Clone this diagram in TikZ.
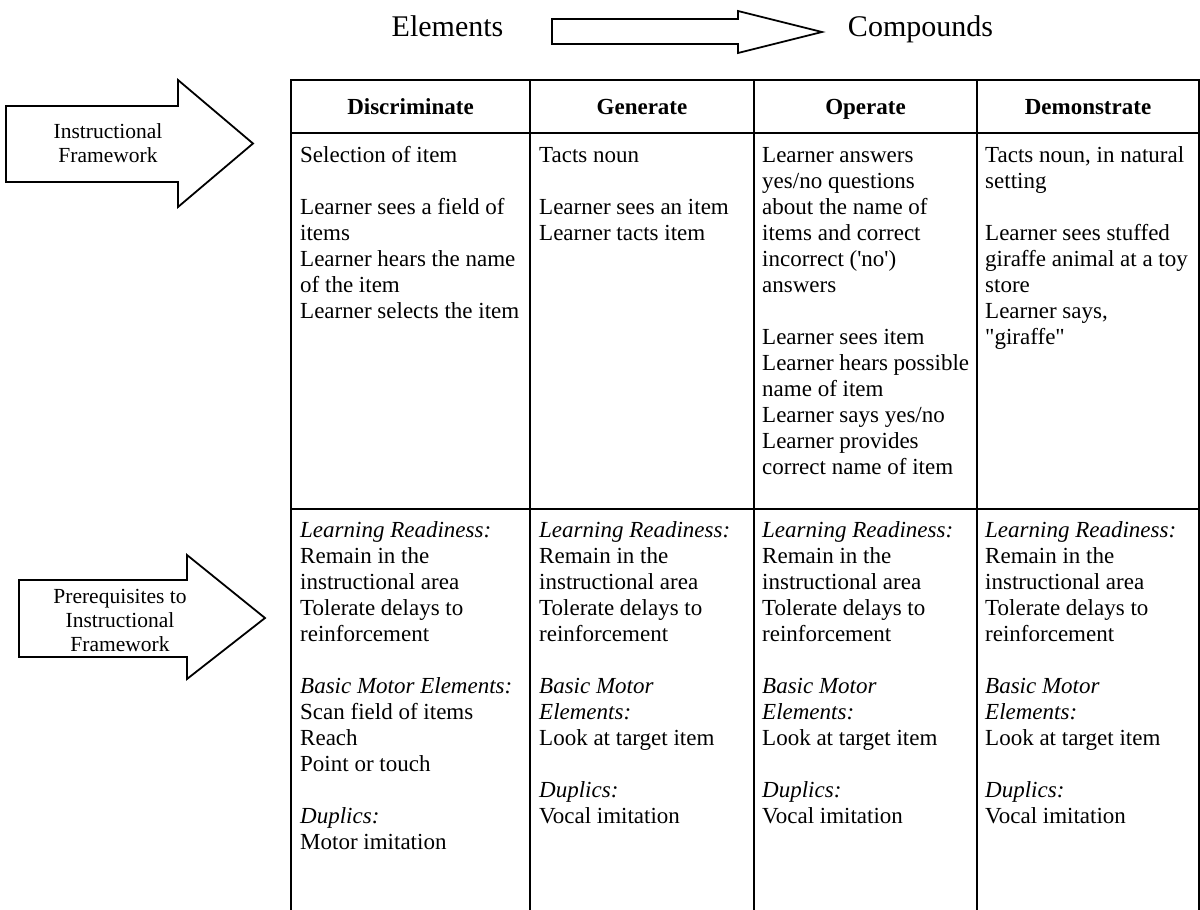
\documentclass[tikz,border=0pt]{standalone}
\usepackage{fontspec}
\setmainfont{Liberation Serif}
\begin{document}
\begin{tikzpicture}[x=1pt,y=-1pt,
  tline/.style={line width=1.2pt, line cap=rect},
  barrow/.style={line width=1.8pt, line join=miter, fill=white},
  cell/.style={anchor=north west, inner sep=0pt, align=left, font=\fontsize{23}{26}\selectfont},
  head/.style={anchor=base, inner sep=0pt, font=\fontsize{23}{26}\selectfont\bfseries},
  atext/.style={anchor=north, inner sep=0pt, align=center, font=\fontsize{21.5}{24}\selectfont},
  big/.style={anchor=base, inner sep=0pt, font=\fontsize{30}{36}\selectfont}]
\useasboundingbox (0,0) rectangle (1200,910);

% top arrow
\node[big] (el) at (447.5,36) {Elements};
\node[big] (co) at (920.5,36) {Compounds};
\draw[barrow] (552,19) -- (738,19) -- (738,11) -- (822,32) -- (738,53) -- (738,44) -- (552,44) -- cycle;

% instructional framework arrow
\draw[barrow] (6,106) -- (178,106) -- (178,80) -- (253,143.5) -- (178,207) -- (178,182) -- (6,182) -- cycle;
\node[atext] (ifw) at (108,121.2) {\strut Instructional\\Framework};

% prerequisites arrow
\draw[barrow] (19,580) -- (187,580) -- (187,555) -- (265,618) -- (187,679) -- (187,657) -- (19,657) -- cycle;
\node[atext] (pre) at (120,586.2) {\strut Prerequisites to\\Instructional\\Framework};

% table lines
\draw[tline] (291,80) -- (1199,80);
\draw[tline] (291,133) -- (1199,133);
\draw[tline] (291,509) -- (1199,509);
\foreach \x in {291,530,754,977,1199} \draw[tline] (\x,80) -- (\x,910);

% headers
\node[head] (h1) at (410.5,114.3) {Discriminate};
\node[head] (h2) at (642,114.3) {Generate};
\node[head] (h3) at (865.5,114.3) {Operate};
\node[head] (h4) at (1088,114.3) {Demonstrate};

% row 1
\node[cell] (a1) at (300,143.8) {\strut Selection of item\\[26pt]
Learner sees a field of\\
items\\
Learner hears the name\\
of the item\\
Learner selects the item};
\node[cell] (b1) at (539,143.8) {\strut Tacts noun\\[26pt]
Learner sees an item\\
Learner tacts item};
\node[cell] (c1) at (762,143.8) {\strut Learner answers\\
yes/no questions\\
about the name of\\
items and correct\\
incorrect (\textquotesingle no\textquotesingle)\\
answers\\[26pt]
Learner sees item\\
Learner hears possible\\
name of item\\
Learner says yes/no\\
Learner provides\\
correct name of item};
\node[cell] (d1) at (985,143.8) {\strut Tacts noun, in natural\\
setting\\[26pt]
Learner sees stuffed\\
giraffe animal at a toy\\
store\\
Learner says,\\
\textquotedbl giraffe\textquotedbl};

% row 2
\node[cell] (a2) at (300,518.8) {\strut\textit{Learning Readiness:}\\
Remain in the\\
instructional area\\
Tolerate delays to\\
reinforcement\\[26pt]
\textit{Basic Motor Elements:}\\
Scan field of items\\
Reach\\
Point or touch\\[26pt]
\textit{Duplics:}\\
Motor imitation};
\foreach \xx/\nm in {539/b2,762/c2,985/d2}
\node[cell] (\nm) at (\xx,518.8) {\strut\textit{Learning Readiness:}\\
Remain in the\\
instructional area\\
Tolerate delays to\\
reinforcement\\[26pt]
\textit{Basic Motor}\\
\textit{Elements:}\\
Look at target item\\[26pt]
\textit{Duplics:}\\
Vocal imitation};
\end{tikzpicture}
\end{document}
